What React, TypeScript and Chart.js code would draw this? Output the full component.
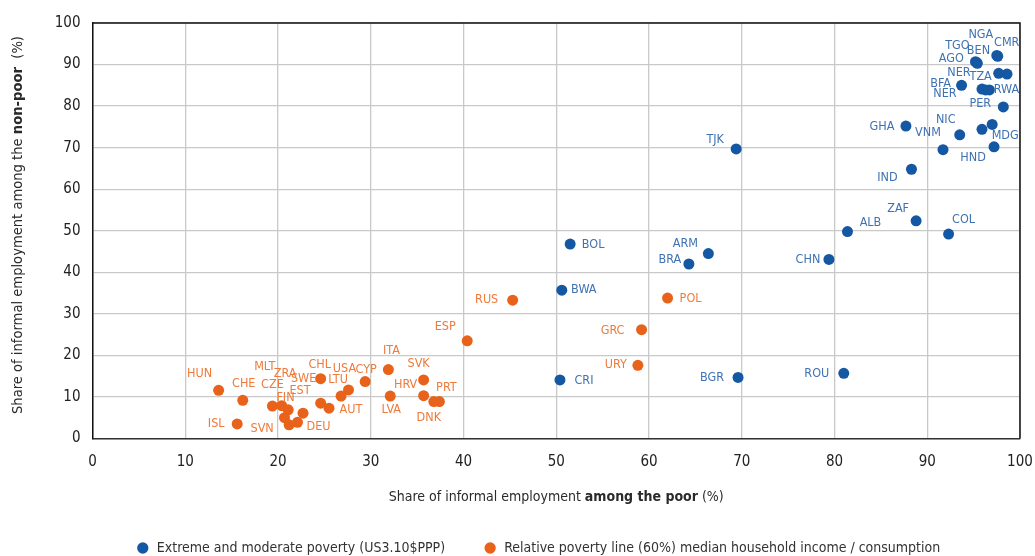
import React, { useEffect, useRef } from "react";
import { Chart, registerables } from "chart.js";
Chart.register(...registerables);

const FONT = "'Liberation Sans Narrow', 'DejaVu Sans Condensed', 'Roboto', sans-serif";

// Extreme and moderate poverty (blue)
const blueCodes = ["NGA", "CMR", "TGO", "BEN", "AGO", "TZA", "NER", "BFA", "NER", "", "RWA", "PER", "GHA", "NIC", "VNM", "", "MDG", "HND", "IND", "ZAF", "ALB", "COL", "CHN", "TJK", "ARM", "BRA", "BGR", "ROU", "BOL", "BWA", "CRI"];
const blueX = [97.5, 97.6, 95.3, 95.2, 95.4, 97.7, 98.6, 93.7, 95.9, 96.3, 96.7, 98.2, 87.7, 93.5, 91.7, 95.9, 97.0, 97.2, 88.3, 88.8, 81.4, 92.3, 79.4, 69.4, 66.4, 64.3, 69.6, 81.0, 51.5, 50.6, 50.4];
const blueY = [92.2, 92.0, 90.5, 90.7, 90.3, 87.9, 87.7, 85.0, 84.1, 83.9, 83.9, 79.8, 75.2, 73.1, 69.5, 74.4, 75.6, 70.2, 64.8, 52.4, 49.8, 49.2, 43.1, 69.7, 44.5, 42.0, 14.7, 15.7, 46.8, 35.7, 14.1];
const blueLabelDx = [-16, 9, -19, 3, -26, -18, -48, -21, -37, 0, 17, -23, -24, -14, -15, 0, 13, -21, -24, -18, 23, 15, -21, -21, -23, -19, -26, -27, 23, 22, 24];
const blueLabelDy = [-21, -13, -17, -11, -5, 3, -1, -2, 5, 0, 0, -3, 1, -15, -17, 0, 11, 11, 8, -12, -9, -14, 0, -9, -10, -4, 0, 0, 1, 0, 1];

// Relative poverty line (orange)
const orangeCodes = ["RUS", "POL", "ESP", "GRC", "URY", "ITA", "SVK", "CYP", "USA", "LTU", "LVA", "HRV", "DNK", "PRT", "AUT", "CHL", "SWE", "HUN", "CHE", "ISL", "CZE", "MLT", "ZRA", "FIN", "SVN", "DEU", "EST"];
const orangeX = [45.3, 62.0, 40.4, 59.2, 58.8, 31.9, 35.7, 29.4, 27.6, 26.8, 32.1, 35.7, 36.8, 37.4, 25.5, 24.6, 24.6, 13.6, 16.2, 15.6, 19.4, 20.4, 21.1, 20.7, 21.2, 22.1, 22.7];
const orangeY = [33.3, 33.8, 23.5, 26.2, 17.6, 16.6, 14.1, 13.7, 11.7, 10.2, 10.2, 10.3, 8.9, 8.9, 7.3, 14.4, 8.5, 11.6, 9.2, 3.5, 7.8, 7.9, 6.9, 5.0, 3.3, 3.9, 6.1];
const orangeLabelDx = [-26, 23, -22, -29, -22, 3, -5, 1, -4, -3, 1, -18, -5, 7, 22, -1, -17, -19, 1, -21, 0, -17, -3, 1, -27, 21, -3];
const orangeLabelDy = [0, 1, -14, 1, -1, -19, -16, -12, -21, -16, 14, -11, 16, -14, 2, -14, -24, -17, -17, 0, -21, -39, -36, -20, 4, 4, -22];

const seriesNames = ["Extreme and moderate poverty (US3.10$PPP)", "Relative poverty line (60%) median household income / consumption"];
const xTitleParts = [["Share of informal employment ", false], ["among the poor", true], [" (%)", false]] as [string, boolean][];
const yTitleParts = [["Share of informal employment among the ", false], ["non-poor", true], ["  (%)", false]] as [string, boolean][];

const BLUE = "#1458a4";
const BLUE_TXT = "#3f72b2";
const ORANGE = "#e8621a";
const ORANGE_TXT = "#ee7a3c";

function drawParts(ctx: CanvasRenderingContext2D, parts: [string, boolean][], size: number) {
  let total = 0;
  const widths: number[] = [];
  parts.forEach(([t, b]) => {
    ctx.font = `${b ? "bold " : ""}${size}px ${FONT}`;
    const w = ctx.measureText(t).width;
    widths.push(w);
    total += w;
  });
  let x = -total / 2;
  parts.forEach(([t, b], i) => {
    ctx.font = `${b ? "bold " : ""}${size}px ${FONT}`;
    ctx.fillText(t, x, 0);
    x += widths[i];
  });
}

const labelPlugin = {
  id: "pointLabels",
  afterDatasetsDraw(chart: any) {
    const ctx = chart.ctx as CanvasRenderingContext2D;
    const cfgs = [
      { codes: blueCodes, dx: blueLabelDx, dy: blueLabelDy, color: BLUE_TXT },
      { codes: orangeCodes, dx: orangeLabelDx, dy: orangeLabelDy, color: ORANGE_TXT },
    ];
    cfgs.forEach((cfg, di) => {
      const meta = chart.getDatasetMeta(di);
      ctx.save();
      ctx.font = `12.5px ${FONT}`;
      ctx.fillStyle = cfg.color;
      ctx.textAlign = "center";
      ctx.textBaseline = "middle";
      meta.data.forEach((pt: any, i: number) => {
        const t = cfg.codes[i];
        if (!t) return;
        ctx.fillText(t, pt.x + cfg.dx[i], pt.y + cfg.dy[i]);
      });
      ctx.restore();
    });
  },
};

const framePlugin = {
  id: "frameAndTitles",
  afterDraw(chart: any) {
    const ctx = chart.ctx as CanvasRenderingContext2D;
    const a = chart.chartArea;
    ctx.save();
    ctx.strokeStyle = "#111";
    ctx.lineWidth = 1.5;
    ctx.beginPath();
    ctx.moveTo(a.left, a.top);
    ctx.lineTo(a.right, a.top);
    ctx.lineTo(a.right, a.bottom);
    ctx.stroke();
    ctx.fillStyle = "#2a2a2a";
    ctx.textAlign = "left";
    ctx.textBaseline = "middle";
    ctx.save();
    ctx.translate((a.left + a.right) / 2, 497);
    drawParts(ctx, xTitleParts, 14);
    ctx.restore();
    ctx.save();
    ctx.translate(18, 225);
    ctx.rotate(-Math.PI / 2);
    drawParts(ctx, yTitleParts, 14.6);
    ctx.restore();
    ctx.restore();
  },
};

export default function App() {
  const ref = useRef<HTMLCanvasElement>(null);
  useEffect(() => {
    document.body.style.margin = "0";
    const chart = new Chart(ref.current!, {
      type: "scatter",
      data: {
        datasets: [
          {
            label: seriesNames[0],
            data: blueX.map((x, i) => ({ x, y: blueY[i] })),
            backgroundColor: BLUE,
            borderColor: BLUE,
            borderWidth: 0,
            pointRadius: 5.5,
          },
          {
            label: seriesNames[1],
            data: orangeX.map((x, i) => ({ x, y: orangeY[i] })),
            backgroundColor: ORANGE,
            borderColor: ORANGE,
            borderWidth: 0,
            pointRadius: 5.5,
          },
        ],
      },
      options: {
        animation: false,
        responsive: false,
        maintainAspectRatio: false,
        layout: { padding: { top: 23, right: 15, left: 56, bottom: 0 } },
        plugins: {
          tooltip: { enabled: false },
          legend: {
            position: "bottom",
            maxHeight: 53,
            labels: {
              usePointStyle: true,
              pointStyle: "circle",
              boxWidth: 14,
              boxHeight: 8,
              padding: 38,
              color: "#333",
              font: { family: FONT, size: 14 },
            },
          },
        },
        scales: {
          x: {
            type: "linear",
            min: 0,
            max: 100,
            afterFit: (s: any) => {
              s.height = 64.5;
              s.paddingRight = 0;
              s.paddingLeft = 0;
            },
            ticks: { stepSize: 10, color: "#222", font: { family: FONT, size: 15 }, padding: 15 },
            grid: { color: "#c9c9c9", lineWidth: 1.3, drawTicks: false },
            border: { color: "#333", width: 1.5 },
          },
          y: {
            type: "linear",
            min: 0,
            max: 100,
            afterFit: (s: any) => {
              s.width = 36.5;
            },
            ticks: { stepSize: 10, color: "#222", font: { family: FONT, size: 15 }, padding: 12 },
            grid: { color: "#c9c9c9", lineWidth: 1.3, drawTicks: false },
            border: { color: "#111", width: 1.5 },
          },
        },
      },
      plugins: [labelPlugin, framePlugin],
    });
    return () => chart.destroy();
  }, []);
  return <canvas ref={ref} width={1035} height={556} style={{ display: "block" }} />;
}
